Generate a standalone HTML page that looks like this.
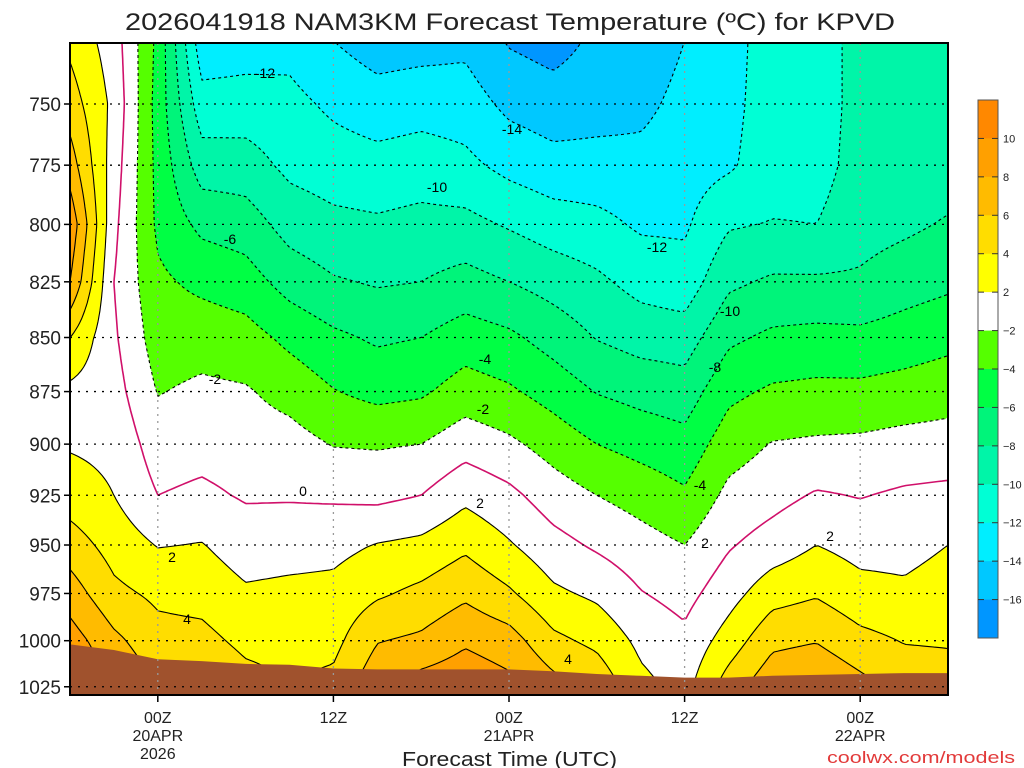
<!DOCTYPE html>
<html><head><meta charset="utf-8"><style>
html,body{margin:0;padding:0;background:#fff;width:1024px;height:768px;overflow:hidden}
#wrap{position:relative;width:1024px;height:768px}
canvas{position:absolute;left:70px;top:43px}
svg{position:absolute;left:0;top:0}
text{font-family:"Liberation Sans",sans-serif}
</style></head><body>
<div id="wrap">
<canvas id="fill" width="878" height="652"></canvas>
<svg id="ov" width="1024" height="768"></svg>
</div>
<script>
const pressureLevels = [725,750,775,800,825,850,875,900,925,950,975,1000,1025];
const forecastHours = [0,3,6,9,12,15,18,21,24,27,30,33,36,39,42,45,48,51,54,57,60];
const temps = [
 [3.5,5,7,9.5,8,4,1.5,1.8,3,5,7,9,10.5],
 [1,1.5,1,0.5,0,0.3,0.8,1.5,2,3.2,4.5,6.5,8],
 [-4.5,-4.8,-4.6,-4.4,-3.6,-3,-2.1,-1,0,1.9,3.6,4.7,6],
 [-13.3,-11.2,-9,-6.5,-4.5,-2.8,-1.6,-0.7,0.4,2.1,3.3,4.6,6],
 [-13,-11.1,-9.1,-7,-5.1,-3.2,-1.8,-1,-0.2,1,2.3,3.5,4.8],
 [-12.7,-11.4,-10.5,-8.8,-6.8,-4.5,-2.7,-1.2,-0.2,1.2,2.5,3.3,4],
 [-14,-12.4,-11,-9.5,-7.8,-5.6,-3.9,-2.1,-0.3,1.4,2.6,3.4,4.6],
 [-15,-13.1,-11.3,-9.7,-8.2,-6.3,-4.6,-2.2,-0.5,2.1,3.7,5.9,7.5],
 [-14.8,-12.8,-11,-9.4,-8,-6,-4.3,-2,0,2.5,4.5,6.4,9],
 [-14.5,-13,-11.5,-9.4,-7.3,-5,-3.1,-0.8,1.5,3.6,5.6,7.7,9.5],
 [-16.2,-14.5,-12.6,-10.2,-8,-5.6,-3.7,-1.6,0.5,2.2,4.3,6.9,8.6],
 [-16.8,-15.1,-13.3,-11,-8.8,-6.8,-4.8,-2.8,-1,0.7,2.4,4.5,6.8],
 [-15.6,-14.8,-13.3,-11.4,-9.6,-8.1,-6.1,-4,-2,-0.3,1.6,3.5,5.5],
 [-15.3,-14.5,-13.4,-12.3,-10.7,-8.8,-6.7,-4.7,-2.8,-1.2,0.1,1.5,2.6],
 [-14,-13.4,-12.9,-12.3,-11.2,-9,-7.1,-5.3,-3.7,-2,-0.7,0.5,1.3],
 [-12.8,-12.6,-12.3,-10.2,-8.4,-6.4,-4.5,-2.9,-1.5,-0.2,1.2,2.9,5],
 [-11,-11,-10.9,-9.9,-7.7,-5.6,-3.7,-1.9,-0.7,0.9,3.2,5.5,7.5],
 [-11,-11,-10.8,-10,-7.7,-5.4,-3.5,-1.7,0.2,2,3.8,5.9,8],
 [-9.3,-9.3,-9.2,-8.8,-7.7,-5.5,-3.5,-1.6,-0.1,1.3,2.7,4.6,6.7],
 [-9.5,-9.5,-9.3,-8.4,-6.9,-5.1,-3.2,-1.3,0.3,1.3,2.4,3.9,5.2],
 [-9.4,-9.3,-9,-7.8,-6.4,-4.6,-2.8,-1.2,0.5,2,3,3.8,5]
];
const yTickLabels = [750,775,800,825,850,875,900,925,950,975,1000,1025];
const xTickHours = [6,18,30,42,54];
const xTickLine1 = ["00Z","12Z","00Z","12Z","00Z"];
const xTickLine2 = ["20APR","","21APR","","22APR"];
const xTickLine3 = ["2026","","","",""];
const contourLevels = [-16,-14,-12,-10,-8,-6,-4,-2,0,2,4,6,8,10];
const bandEdges = [-16,-14,-12,-10,-8,-6,-4,-2,2,4,6,8,10];
const bandColors = ["#0096ff","#00c8ff","#00eeff","#00ffd5","#00f5a8","#00f47a","#00ff44","#55ff00","#ffffff","#ffff00","#ffdd00","#ffbb00","#ffa000","#ff8800"];
const groundPressure = [1002,1005,1010,1011,1012.5,1013,1015,1015.5,1015.5,1015.5,1015.5,1016.5,1018,1019,1020,1020,1019,1018.5,1018,1017.5,1017.5];
const labels = [
 ["-12",265,78],["-14",512,134],["-10",437,192],["-12",657,252],["-6",230,244],["-10",730,316],["-8",715,372],
 ["-4",485,364],["-2",215,384],["-2",483,414],["-4",700,490],["2",705,548],["0",303,496],["2",172,562],
 ["4",187,624],["2",480,508],["4",568,664],["2",830,541]
];

const X0=70,X1=948,Y0=43,Y1=695;
function xOf(h){return X0+(h-forecastHours[0])/(forecastHours[forecastHours.length-1]-forecastHours[0])*(X1-X0);}
function yOf(p){return 104+(Math.log(p)-Math.log(750))*1865.6;}
function pOfY(y){return Math.exp(Math.log(750)+(y-104)/1865.6);}
function colIdx(x){const h=forecastHours[0]+(x-X0)/(X1-X0)*(forecastHours[forecastHours.length-1]-forecastHours[0]);
 let i=0;while(i<forecastHours.length-2&&h>forecastHours[i+1])i++;
 let f=(h-forecastHours[i])/(forecastHours[i+1]-forecastHours[i]);return [i,Math.max(0,Math.min(1,f))];}
function rowIdx(y){const p=pOfY(y);let j=0;while(j<pressureLevels.length-2&&p>pressureLevels[j+1])j++;
 let f=(p-pressureLevels[j])/(pressureLevels[j+1]-pressureLevels[j]);return [j,Math.max(0,Math.min(1,f))];}
function T(x,y){const [i,fx]=colIdx(x),[j,fy]=rowIdx(y);
 const a=temps[i][j],b=temps[i+1][j],c=temps[i][j+1],d=temps[i+1][j+1];
 return a*(1-fx)*(1-fy)+b*fx*(1-fy)+c*(1-fx)*fy+d*fx*fy;}
function band(t){let k=0;while(k<bandEdges.length&&t>=bandEdges[k])k++;return k;}
function hex(c){return [parseInt(c.substr(1,2),16),parseInt(c.substr(3,2),16),parseInt(c.substr(5,2),16)];}
const rgb=bandColors.map(hex);
const cv=document.getElementById('fill'),ctx=cv.getContext('2d');
const W=878,H=652,img=ctx.createImageData(W,H);
for(let py=0;py<H;py++){const y=Y0+py+0.5;for(let px=0;px<W;px++){const t=T(X0+px+0.5,y);const c=rgb[band(t)];const o=(py*W+px)*4;img.data[o]=c[0];img.data[o+1]=c[1];img.data[o+2]=c[2];img.data[o+3]=255;}}
ctx.putImageData(img,0,0);

const NS="http://www.w3.org/2000/svg";const svg=document.getElementById('ov');
function el(tag,attrs,parent){const e=document.createElementNS(NS,tag);for(const k in attrs)e.setAttribute(k,attrs[k]);(parent||svg).appendChild(e);return e;}
function txt(s,attrs,parent){const e=el('text',attrs,parent);e.textContent=s;return e;}

const S=4,nx=Math.ceil(W/S)+1,ny=Math.ceil(H/S)+1;const G=[];
for(let j=0;j<ny;j++){G.push([]);for(let i=0;i<nx;i++)G[j].push(T(X0+Math.min(i*S,W),Y0+Math.min(j*S,H)));}
function chain(segs){
 const key=p=>p[0].toFixed(2)+','+p[1].toFixed(2);
 const map=new Map();segs.forEach((s,i)=>{[0,1].forEach(e=>{const k=key(s[e]);if(!map.has(k))map.set(k,[]);map.get(k).push(i);});});
 const used=new Array(segs.length).fill(false);const lines=[];
 function ext(line,fromEnd){while(true){const p=fromEnd?line[line.length-1]:line[0];const c=map.get(key(p))||[];let nxt=-1;
  for(const i of c)if(!used[i]){nxt=i;break;}if(nxt<0)return;used[nxt]=true;const s=segs[nxt];
  const q=key(s[0])===key(p)?s[1]:s[0];if(fromEnd)line.push(q);else line.unshift(q);}}
 for(let i=0;i<segs.length;i++){if(used[i])continue;used[i]=true;const line=[segs[i][0],segs[i][1]];ext(line,true);ext(line,false);lines.push(line);}
 return lines;
}
const cg=el('g',{});


contourLevels.forEach(L=>{const segs=[];
 for(let j=0;j<ny-1;j++)for(let i=0;i<nx-1;i++){
  const x0=X0+Math.min(i*S,W),x1=X0+Math.min((i+1)*S,W),y0=Y0+Math.min(j*S,H),y1=Y0+Math.min((j+1)*S,H);
  const a=G[j][i],b=G[j][i+1],c=G[j+1][i+1],e=G[j+1][i];const pts=[];
  if((a<L)!==(b<L))pts.push([x0+(L-a)/(b-a)*(x1-x0),y0]);
  if((b<L)!==(c<L))pts.push([x1,y0+(L-b)/(c-b)*(y1-y0)]);
  if((e<L)!==(c<L))pts.push([x0+(L-e)/(c-e)*(x1-x0),y1]);
  if((a<L)!==(e<L))pts.push([x0,y0+(L-a)/(e-a)*(y1-y0)]);
  for(let k=0;k+1<pts.length;k+=2)segs.push([pts[k],pts[k+1]]);
 }
 let d='';chain(segs).forEach(line=>{d+='M'+line.map(p=>p[0].toFixed(1)+' '+p[1].toFixed(1)).join('L');});
 const attrs={d:d,fill:'none','stroke-linejoin':'round'};
 if(L<0){attrs.stroke='#000';attrs['stroke-width']=1.1;attrs['stroke-dasharray']='3 3';}
 else if(L===0){attrs.stroke='#d0106a';attrs['stroke-width']=1.6;}
 else {attrs.stroke='#000';attrs['stroke-width']=1.1;}
 const p=el('path',attrs,cg);
 
 
});
labels.forEach(l=>{const t=txt(l[0],{x:l[1],y:l[2],'font-size':14,'text-anchor':'middle',fill:'#000'});
 
 });
let gp='M'+X0+' '+Y1;
forecastHours.forEach((h,i)=>{gp+='L'+xOf(h).toFixed(1)+' '+yOf(groundPressure[i]).toFixed(1);});
gp+='L'+X1+' '+Y1+'Z';
const gnd=el('path',{d:gp,fill:'#a0522d'});


yTickLabels.forEach(p=>{const y=yOf(p);
 const g=el('line',{x1:X0,x2:X1,y1:y,y2:y,stroke:'#000','stroke-width':1.3,'stroke-dasharray':'2 6'});
 
 
 const tk=el('line',{x1:X0-6,x2:X0,y1:y,y2:y,stroke:'#000','stroke-width':1.5});
 
 
 const t=txt(String(p),{x:61,y:y+7,'font-size':19,'text-anchor':'end',fill:'#222'});
 
 });
xTickHours.forEach((h,i)=>{const x=xOf(h);
 const g=el('line',{x1:x,x2:x,y1:Y0,y2:Y1,stroke:'#999','stroke-width':1.3,'stroke-dasharray':'2 5'});
 
 
 const tk=el('line',{x1:x,x2:x,y1:Y1,y2:Y1+7,stroke:'#000','stroke-width':1.5});
 
 
 [xTickLine1[i],xTickLine2[i],xTickLine3[i]].forEach((s,k)=>{if(!s)return;
  const t=txt(s,{x:x,y:723+k*18,'font-size':16,'text-anchor':'middle',fill:'#222'});
  
  });});
const fr=el('rect',{x:X0,y:Y0,width:X1-X0,height:Y1-Y0,fill:'none',stroke:'#000','stroke-width':2});


const tt=txt('2026041918 NAM3KM Forecast Temperature (\u00BAC) for KPVD',{x:125,y:30,'font-size':24,textLength:770,lengthAdjust:'spacingAndGlyphs',fill:'#222'});


const xt=txt('Forecast Time (UTC)',{x:402,y:766,'font-size':20,textLength:215,lengthAdjust:'spacingAndGlyphs',fill:'#222'});


const cw=txt('coolwx.com/models',{x:827,y:763,'font-size':17,textLength:188,lengthAdjust:'spacingAndGlyphs',fill:'#e23a3a'});


const cb=el('g',{});


const bh=(638-100)/bandColors.length;
for(let k=0;k<bandColors.length;k++){const idx=bandColors.length-1-k;
 const r=el('rect',{x:978,y:100+k*bh,width:20,height:bh+0.5,fill:bandColors[idx]},cb);
 
 }
el('rect',{x:978,y:100,width:20,height:538,fill:'none',stroke:'#555','stroke-width':1},cb);
for(let k=1;k<bandColors.length;k++){const v=bandEdges[bandEdges.length-k];const y=100+k*bh;
 el('line',{x1:978,x2:984,y1:y,y2:y,stroke:'#333','stroke-width':1},cb);
 el('line',{x1:992,x2:998,y1:y,y2:y,stroke:'#333','stroke-width':1},cb);
 const t=txt(v<0?'\u2212'+(-v):String(v),{x:1003,y:y+4,'font-size':11,fill:'#222'},cb);
 
 }
</script>
</body></html>
